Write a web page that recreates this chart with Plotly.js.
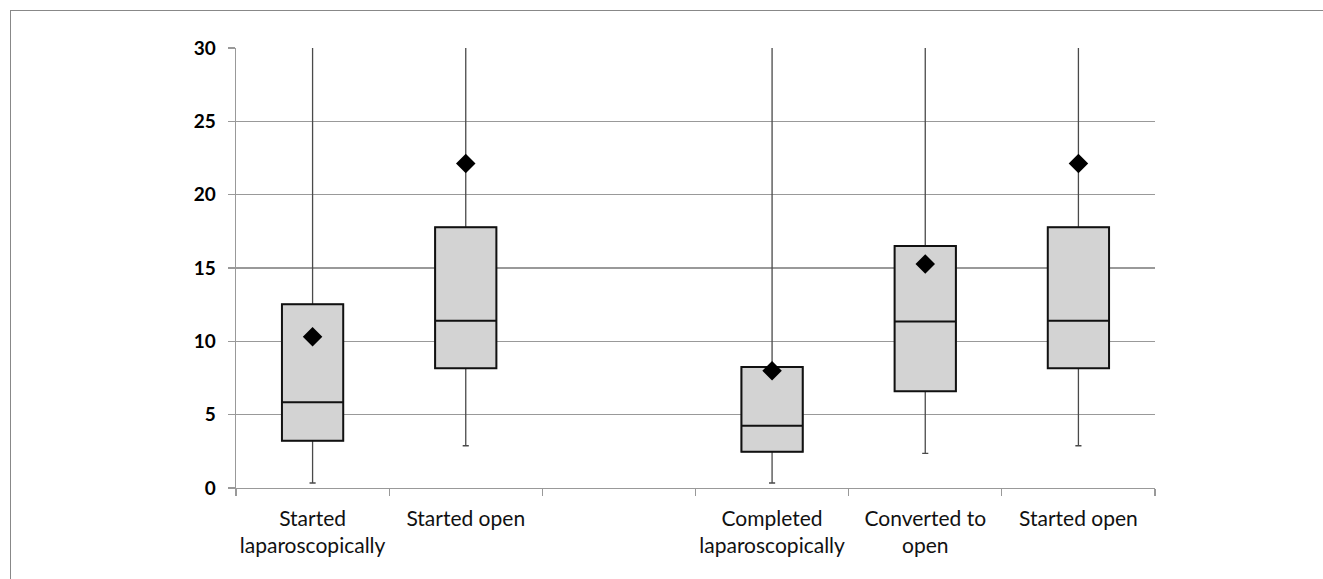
<!DOCTYPE html>
<html>
<head>
<meta charset="utf-8">
<script src="https://cdn.plot.ly/plotly-3.0.1.min.js"></script>
<style>
html,body{margin:0;padding:0;background:#fff;}
#frame{position:absolute;left:10px;top:10px;right:0;bottom:0;border-left:1.5px solid #888;border-top:1.5px solid #888;}
#chart{position:absolute;left:0;top:0;width:1323px;height:579px;}
</style>
</head>
<body>
<div id="frame"></div>
<div id="chart"></div>
<script>
// Group positions (slot 2 is an empty gap between the two groups)
const positions = [0, 1, 3, 4, 5];
const categoryLabels = ["Started<br>laparoscopically", "Started open", "Completed<br>laparoscopically", "Converted to<br>open", "Started open"];
const q1Values     = [3.23, 8.16, 2.48, 6.59, 8.16];
const medianValues = [5.84, 11.41, 4.25, 11.36, 11.41];
const q3Values     = [12.52, 17.77, 8.25, 16.5, 17.77];
const lowerWhisker = [0.34, 2.88, 0.34, 2.36, 2.88];
const upperWhisker = [32, 32, 32, 32, 32];   // extends beyond the 30 axis limit
const meanValues   = [10.32, 22.13, 8.0, 15.27, 22.13];
const yTicks = [0, 5, 10, 15, 20, 25, 30];
const slotBoundaries = [-0.5, 0.5, 1.5, 2.5, 3.5, 4.5, 5.5];

// whiskers (grey, thin)
const whiskerTrace = {
  type: 'box',
  x: positions,
  q1: q1Values,
  median: medianValues,
  q3: q3Values,
  lowerfence: lowerWhisker,
  upperfence: upperWhisker,
  width: 0.4,
  whiskerwidth: 0.1,
  fillcolor: 'rgba(0,0,0,0)',
  line: {color: '#4a4a4a', width: 1.3},
  boxpoints: false,
  hoverinfo: 'skip',
  showlegend: false
};
// boxes (black outline, grey fill), no whiskers
const boxTrace = {
  type: 'box',
  x: positions,
  q1: q1Values,
  median: medianValues,
  q3: q3Values,
  lowerfence: q1Values,
  upperfence: q3Values,
  width: 0.4,
  whiskerwidth: 0,
  fillcolor: '#d3d3d3',
  line: {color: '#111', width: 2},
  boxpoints: false,
  hoverinfo: 'skip',
  showlegend: false
};
const meanTrace = {
  type: 'scatter',
  mode: 'markers',
  x: positions,
  y: meanValues,
  marker: {symbol: 'diamond', size: 15, color: '#000'},
  hoverinfo: 'skip',
  showlegend: false
};
// invisible trace on label axis so xaxis2 is drawn
const labelTrace = {
  type: 'scatter', mode: 'markers', x: positions, y: meanValues, xaxis: 'x2',
  marker: {opacity: 0}, hoverinfo: 'skip', showlegend: false
};

const layout = {
  width: 1323, height: 579,
  margin: {l: 236, r: 168, t: 48, b: 91},
  paper_bgcolor: 'rgba(0,0,0,0)',
  plot_bgcolor: 'rgba(0,0,0,0)',
  xaxis: {
    range: [-0.5, 5.5],
    tickvals: slotBoundaries,
    ticktext: slotBoundaries.map(() => ''),
    ticks: 'outside', ticklen: 7, tickcolor: '#999', tickwidth: 1.3,
    showgrid: false, zeroline: false,
    showline: true, linecolor: '#999', linewidth: 1.3,
    fixedrange: true
  },
  xaxis2: {
    overlaying: 'x', anchor: 'y', side: 'bottom',
    range: [-0.5, 5.5],
    tickvals: positions,
    ticktext: categoryLabels,
    ticks: '', showgrid: false, zeroline: false, showline: false,
    ticklabelstandoff: 16,
    tickfont: {family: 'Lato, "Open Sans", sans-serif', size: 21, color: '#111'}
  },
  yaxis: {
    range: [0, 30],
    tickvals: yTicks,
    ticks: 'outside', ticklen: 7, tickcolor: '#999', tickwidth: 1.3,
    showgrid: true, gridcolor: '#999', gridwidth: 1.3,
    zeroline: false,
    showline: true, linecolor: '#999', linewidth: 1.3,
    ticklabelstandoff: 8,
    tickfont: {family: 'Lato, "Open Sans", sans-serif', size: 19, color: '#000', weight: 'bold'}
  }
};

Plotly.newPlot('chart', [whiskerTrace, boxTrace, meanTrace, labelTrace], layout, {displayModeBar: false, staticPlot: true});
</script>
</body>
</html>
